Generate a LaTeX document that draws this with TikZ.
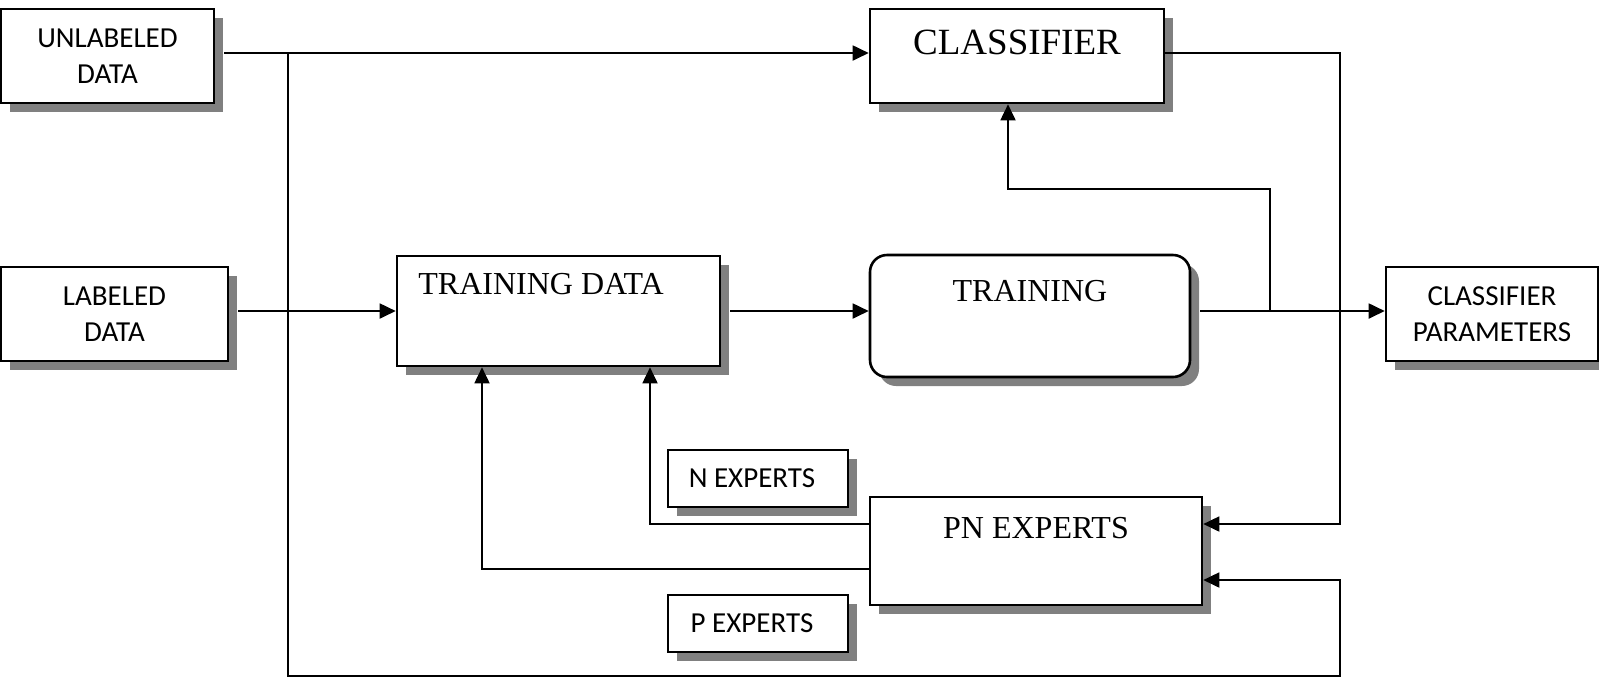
\documentclass[tikz,border=0pt]{standalone}
\usepackage{fontspec}
\setmainfont{Liberation Serif}
\newfontfamily\calib{Carlito}
\usetikzlibrary{arrows.meta,shadows}
\definecolor{shd}{RGB}{128,128,128}
\begin{document}
\begin{tikzpicture}[x=0.5pt,y=-0.5pt,
  box/.style={draw, line width=1.3pt, fill=white, inner sep=0pt,
    drop shadow={shadow xshift=4.5pt, shadow yshift=-4.5pt, fill=shd, opacity=1}},
  sanslbl/.style={font=\calib\fontsize{14.5}{18}\selectfont, align=center},
  seriflbl/.style={font=\fontsize{16}{19}\selectfont, anchor=base, inner sep=0pt},
  conn/.style={line width=0.9pt},
  arr/.style={conn, -{Triangle[length=8pt,width=7.5pt]}}]
\useasboundingbox (0,0) rectangle (1599,677);

% input and output blocks
\node[box, sanslbl, minimum width=106.5pt, minimum height=47pt] (unl) at (107.5,56) {UNLABELED\\DATA};
\node[box, sanslbl, minimum width=113.5pt, minimum height=47pt] (lab) at (114.5,314) {LABELED\\DATA};
\node[box, sanslbl, minimum width=106pt, minimum height=47pt] (cp) at (1492,314) {CLASSIFIER\\PARAMETERS};

% processing blocks
\node[box, minimum width=147pt, minimum height=47pt] (cls) at (1017,56) {};
\node[box, minimum width=161.5pt, minimum height=55pt] (tdata) at (558.5,311) {};
\node[box, rounded corners=8.5pt, minimum width=160pt, minimum height=61pt] (train) at (1030,316) {};
\node[box, minimum width=166pt, minimum height=54pt] (pn) at (1036,551) {};
\node[box, sanslbl, minimum width=90pt, minimum height=28.5pt] (nexp) at (758,478.5) {N EXPERTS\hspace*{6pt}};
\node[box, sanslbl, minimum width=90pt, minimum height=28.5pt] (pexp) at (758,623.5) {P EXPERTS\hspace*{6pt}};

% block titles
\node[seriflbl, font=\fontsize{18.5}{22}\selectfont] (clst) at (1017,54) {CLASSIFIER};
\node[seriflbl, anchor=base west] (tdatat) at (418,294) {TRAINING DATA};
\node[seriflbl] (traint) at (1030,301) {TRAINING};
\node[seriflbl] (pnt) at (1036,538) {PN EXPERTS};

% junction and corner points
\coordinate (j1) at (288,53);
\coordinate (rb) at (1340,676);
\coordinate (rt) at (1340,524);
\coordinate (br) at (1270,311);
\coordinate (bk) at (1008,189);

% connectors
\draw[arr] ([xshift=4.5pt,yshift=1.5pt]unl.east) -- ([yshift=1.5pt]cls.west);
\draw[arr] (j1) |- (rb) |- ([yshift=-14.5pt]pn.east);
\draw[arr] ([yshift=1.5pt]cls.east) -| (rt) -- ([yshift=13.5pt]pn.east);
\draw[arr] ([xshift=4.5pt,yshift=1.5pt]lab.east) -- (tdata.west);
\draw[arr] ([xshift=4.5pt]tdata.east) -- ([yshift=2.5pt]train.west);
\draw[arr] ([xshift=4.5pt,yshift=2.5pt]train.east) -- ([yshift=1.5pt]cp.west);
\draw[arr] (br) |- (bk) -- (bk |- cls.south);
\draw[arr] ([yshift=13.5pt]pn.west) -| ([xshift=45.75pt]tdata.south);
\draw[arr] ([yshift=-9pt]pn.west) -| ([xshift=-38.25pt]tdata.south);
\end{tikzpicture}
\end{document}
